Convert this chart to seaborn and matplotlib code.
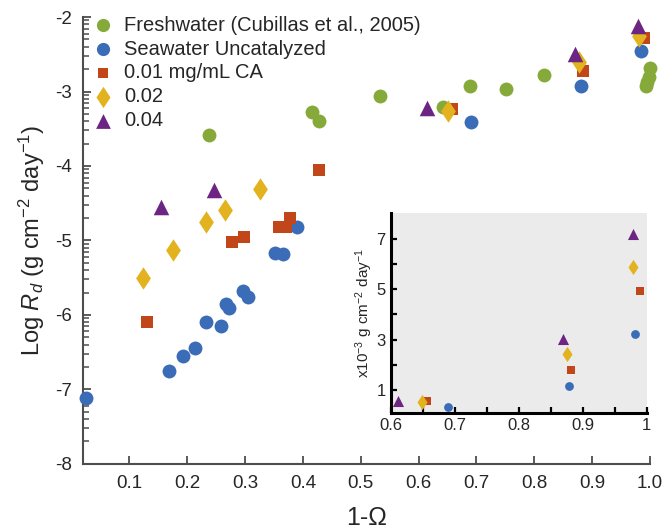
import numpy as np
import pandas as pd
import seaborn as sns
import matplotlib.pyplot as plt
from matplotlib.ticker import FixedLocator

# ---- data ----
fresh_x = [0.238, 0.416, 0.428, 0.534, 0.642, 0.689, 0.751, 0.817, 1.000, 0.998, 0.995, 0.993]
fresh_y = [-3.58, -3.28, -3.40, -3.06, -3.21, -2.92, -2.97, -2.78, -2.69, -2.80, -2.87, -2.93]

sea_x = [0.026, 0.169, 0.193, 0.214, 0.232, 0.259, 0.268, 0.272, 0.297, 0.306,
         0.352, 0.366, 0.390, 0.691, 0.881, 0.984]
sea_y = [-7.11, -6.75, -6.55, -6.44, -6.10, -6.15, -5.85, -5.91, -5.68, -5.76,
         -5.17, -5.18, -4.82, -3.41, -2.92, -2.46]

ca01_x = [0.131, 0.278, 0.299, 0.358, 0.370, 0.378, 0.428, 0.658, 0.884, 0.990]
ca01_y = [-6.10, -5.02, -4.96, -4.82, -4.82, -4.70, -4.06, -3.23, -2.72, -2.28]

ca02_x = [0.123, 0.175, 0.232, 0.266, 0.326, 0.650, 0.877, 0.981]
ca02_y = [-5.50, -5.13, -4.75, -4.59, -4.31, -3.26, -2.61, -2.25]

ca04_x = [0.155, 0.247, 0.615, 0.870, 0.979]
ca04_y = [-4.55, -4.32, -3.22, -2.49, -2.12]

# inset (linear rate, x10^-3 g cm^-2 day^-1)
in_sea_x = [0.689, 0.878, 0.981]
in_sea_y = [0.33, 1.13, 3.24]
in_ca01_x = [0.656, 0.882, 0.989]
in_ca01_y = [0.55, 1.77, 4.95]
in_ca02_x = [0.648, 0.875, 0.979]
in_ca02_y = [0.53, 2.43, 5.88]
in_ca04_x = [0.611, 0.869, 0.978]
in_ca04_y = [0.56, 3.04, 7.21]

labels = ["Freshwater (Cubillas et al., 2005)", "Seawater Uncatalyzed",
          "0.01 mg/mL CA", "0.02", "0.04"]
x_ticks = [0.1, 0.2, 0.3, 0.4, 0.5, 0.6, 0.7, 0.8, 0.9, 1.0]
x_ticklabels = ["0.1", "0.2", "0.3", "0.4", "0.5", "0.6", "0.7", "0.8", "0.9", "1.0"]
y_ticks = [-8, -7, -6, -5, -4, -3, -2]
y_ticklabels = ["-8", "-7", "-6", "-5", "-4", "-3", "-2"]
in_x_ticks = [0.6, 0.7, 0.8, 0.9, 1.0]
in_x_ticklabels = ["0.6", "0.7", "0.8", "0.9", "1"]
in_y_ticks = [1, 3, 5, 7]
in_y_ticklabels = ["1", "3", "5", "7"]

# a diamond a bit wider than matplotlib's thin diamond
diamond = [(0, 1), (0.66, 0), (0, -1), (-0.66, 0), (0, 1)]

colors = ["#86aa3a", "#3b6cb7", "#c1471b", "#e2b21f", "#6d2583"]
markers = ["o", "o", "s", diamond, "^"]
sizes = [100, 100, 64, 260, 125]
in_sizes = [40, 36, 120, 64]

sns.set_style("ticks")
plt.rcParams["font.family"] = ["Liberation Sans", "DejaVu Sans"]
plt.rcParams["mathtext.fontset"] = "custom"
plt.rcParams["mathtext.rm"] = "Liberation Sans"
plt.rcParams["mathtext.it"] = "Liberation Sans:italic"

fig = plt.figure(figsize=(6.64, 5.32), dpi=100)
ax = fig.add_axes([0.125, 0.128, 0.854, 0.84])

main = [(fresh_x, fresh_y), (sea_x, sea_y), (ca01_x, ca01_y), (ca02_x, ca02_y), (ca04_x, ca04_y)]
for (xs, ys), lab, c, m, s in zip(main, labels, colors, markers, sizes):
    df = pd.DataFrame({"x": xs, "y": ys})
    sns.scatterplot(data=df, x="x", y="y", ax=ax, color=c, marker=m, s=s,
                    linewidth=0, label=lab, zorder=3, clip_on=False)

ax.set_xlim(0.02, 1.0)
ax.set_ylim(-8, -2)
ax.set_xticks(x_ticks)
ax.set_xticklabels(x_ticklabels)
ax.set_yticks(y_ticks)
ax.set_yticklabels(y_ticklabels)
# log-style minor ticks within each decade
minor = [d + np.log10(k) for d in range(-8, -2) for k in range(2, 10)]
ax.yaxis.set_minor_locator(FixedLocator(minor))
ax.tick_params(axis="both", which="major", direction="in", length=6, width=1.3,
               color="#4d4d4d", labelsize=13.5, pad=8)
ax.tick_params(axis="y", which="minor", direction="in", length=4, width=1.1, color="#4d4d4d")
for side in ["top", "right"]:
    ax.spines[side].set_visible(False)
for side in ["left", "bottom"]:
    ax.spines[side].set_color("#4d4d4d")
    ax.spines[side].set_linewidth(1.5)
ax.set_xlabel("1-Ω", fontsize=18, labelpad=10)
ax.set_ylabel("Log $\\it{R_d}$ (g cm$^{-2}$ day$^{-1}$)", fontsize=17, labelpad=6)

leg = ax.legend(loc="upper left", bbox_to_anchor=(-0.008, 1.03), frameon=False,
                fontsize=14.5, handletextpad=0.45, labelspacing=0.24,
                borderaxespad=0.2, handlelength=1.2, markerscale=0.95)

# ---- inset ----
ins = fig.add_axes([0.589, 0.224, 0.385, 0.376])
ins.set_facecolor("#ebebeb")
inset = [(in_sea_x, in_sea_y), (in_ca01_x, in_ca01_y), (in_ca02_x, in_ca02_y), (in_ca04_x, in_ca04_y)]
for (xs, ys), c, m, s in zip(inset, colors[1:], markers[1:], in_sizes):
    df = pd.DataFrame({"x": xs, "y": ys})
    sns.scatterplot(data=df, x="x", y="y", ax=ins, color=c, marker=m, s=s,
                    linewidth=0, zorder=3, legend=False)
ins.set_xlim(0.6, 1.0)
ins.set_ylim(0.08, 8.05)
ins.set_xticks(in_x_ticks)
ins.set_xticklabels(in_x_ticklabels)
ins.set_yticks(in_y_ticks)
ins.set_yticklabels(in_y_ticklabels)
ins.xaxis.set_minor_locator(FixedLocator([0.65, 0.75, 0.85, 0.95]))
ins.yaxis.set_minor_locator(FixedLocator([2, 4, 6]))
ins.tick_params(axis="both", which="both", direction="in", length=4, width=1.6,
                color="black", labelsize=12, pad=4)
for side in ["top", "right"]:
    ins.spines[side].set_visible(False)
for side in ["left", "bottom"]:
    ins.spines[side].set_color("black")
    ins.spines[side].set_linewidth(2.2)
ins.set_xlabel("")
ins.set_ylabel("x10$^{-3}$ g cm$^{-2}$ day$^{-1}$", fontsize=11, labelpad=1)

fig.savefig("out.png", dpi=100)
